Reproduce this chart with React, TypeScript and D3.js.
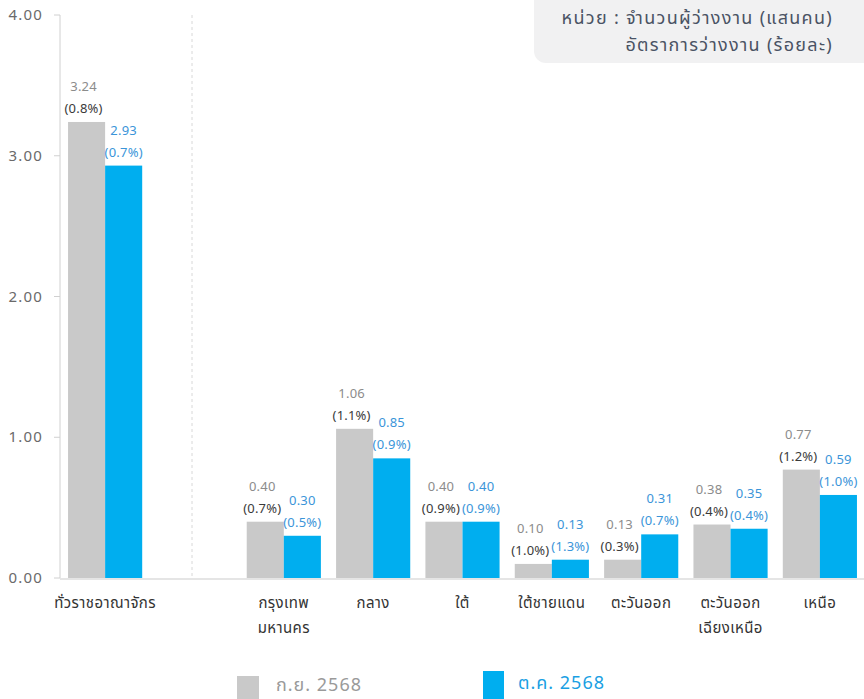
import React from "react"
import * as d3 from "d3"

// region keys and their x-axis labels (split in lines)
const regions = ["ทั่วราชอาณาจักร", "กรุงเทพมหานคร", "กลาง", "ใต้", "ใต้ชายแดน", "ตะวันออก", "ตะวันออกเฉียงเหนือ", "เหนือ"]
const regionLines = [["ทั่วราชอาณาจักร"], ["กรุงเทพ", "มหานคร"], ["กลาง"], ["ใต้"], ["ใต้ชายแดน"], ["ตะวันออก"], ["ตะวันออก", "เฉียงเหนือ"], ["เหนือ"]]

// ก.ย. 2568
const sepValues = [3.24, 0.40, 1.06, 0.40, 0.10, 0.13, 0.38, 0.77]
const sepRates = ["0.8", "0.7", "1.1", "0.9", "1.0", "0.3", "0.4", "1.2"]
// ต.ค. 2568
const octValues = [2.93, 0.30, 0.85, 0.40, 0.13, 0.31, 0.35, 0.59]
const octRates = ["0.7", "0.5", "0.9", "0.9", "1.3", "0.7", "0.4", "1.0"]

const yTicks = [0, 1, 2, 3, 4]
const seriesNames = ["ก.ย. 2568", "ต.ค. 2568"]

const FONT = "'Noto Sans Thai', 'Noto Sans', sans-serif"
const GREY = "#c9c9c9"
const BLUE = "#00aeef"

export default function App() {
    const width = 864
    const height = 699
    const gapKey = "__gap"
    const domain = [regions[0], gapKey, ...regions.slice(1)]

    const x = d3.scaleBand<string>()
        .domain(domain)
        .range([60, 865])
        .paddingInner(0.17)
        .paddingOuter(0.09)
    const sub = d3.scaleBand<number>()
        .domain([0, 1])
        .range([0, x.bandwidth()])
    const y = d3.scaleLinear()
        .domain([0, 4])
        .range([578, 15])

    const series = [
        { values: sepValues, rates: sepRates, fill: GREY, numColor: "#8c8c8c", rateColor: "#3a3a3a", shift: -3 },
        { values: octValues, rates: octRates, fill: BLUE, numColor: "#3b95d9", rateColor: "#3b95d9", shift: 0 },
    ]

    return (
        <svg width={width} height={height} style={{ position: "absolute", left: 0, top: 0 }} fontFamily={FONT}>
            {/* unit box */}
            <rect x={534} y={-12} width={345} height={75} rx={12} fill="#f1f1f2" />
            <text x={833} y={24} textAnchor="end" fontSize={18} letterSpacing={1.3} fill="#4a5364">หน่วย : จำนวนผู้ว่างงาน (แสนคน)</text>
            <text x={833} y={51} textAnchor="end" fontSize={18} letterSpacing={1.3} fill="#4a5364">อัตราการว่างงาน (ร้อยละ)</text>

            {/* y axis */}
            <line x1={60} x2={60} y1={y(4)} y2={y(0)} stroke="#d0d0d0" />
            {yTicks.map(t => (
                <g key={t}>
                    <line x1={54} x2={60} y1={y(t)} y2={y(t)} stroke="#d0d0d0" />
                    <text x={43} y={y(t) + 5} textAnchor="end" fontSize={15} letterSpacing={1.2} fill="#6a6a6a">{t.toFixed(2)}</text>
                </g>
            ))}

            {/* separator */}
            <line x1={192} x2={192} y1={y(4)} y2={y(0)} stroke="#d8d8d8" strokeDasharray="3,3" />

            {/* bars */}
            {series.map((s, si) => regions.map((r, i) => {
                const bx = (x(r) as number) + (sub(si) as number)
                const top = y(s.values[i])
                const cx = bx + sub.bandwidth() / 2 + s.shift
                return (
                    <g key={si + "-" + i}>
                        <rect x={bx} y={top} width={sub.bandwidth()} height={y(0) - top} fill={s.fill} />
                        <text x={cx} y={top - 31} textAnchor="middle" fontSize={13} letterSpacing={0.2} fill={s.numColor}>{s.values[i].toFixed(2)}</text>
                        <text x={cx} y={top - 9} textAnchor="middle" fontSize={13} letterSpacing={0.2} fill={s.rateColor}>({s.rates[i]}%)</text>
                    </g>
                )
            }))}

            {/* baseline */}
            <line x1={60} x2={864} y1={y(0) + 1} y2={y(0) + 1} stroke="#dcdcdc" strokeWidth={1.5} />

            {/* x labels */}
            {regions.map((r, i) => (
                <text key={r} x={(x(r) as number) + x.bandwidth() / 2} y={608} textAnchor="middle" fontSize={15} letterSpacing={0.4} fill="#333">
                    {regionLines[i].map((ln, j) => (
                        <tspan key={j} x={(x(r) as number) + x.bandwidth() / 2} dy={j === 0 ? 0 : 25}>{ln}</tspan>
                    ))}
                </text>
            ))}

            {/* legend */}
            <rect x={237} y={676} width={22} height={26} fill={GREY} />
            <text x={276} y={691} fontSize={18} letterSpacing={1} fill="#9a9a9a">{seriesNames[0]}</text>
            <rect x={483} y={671} width={21} height={30} fill={BLUE} />
            <text x={518} y={689} fontSize={18} letterSpacing={1} fill="#1a9fe3">{seriesNames[1]}</text>
        </svg>
    )
}
